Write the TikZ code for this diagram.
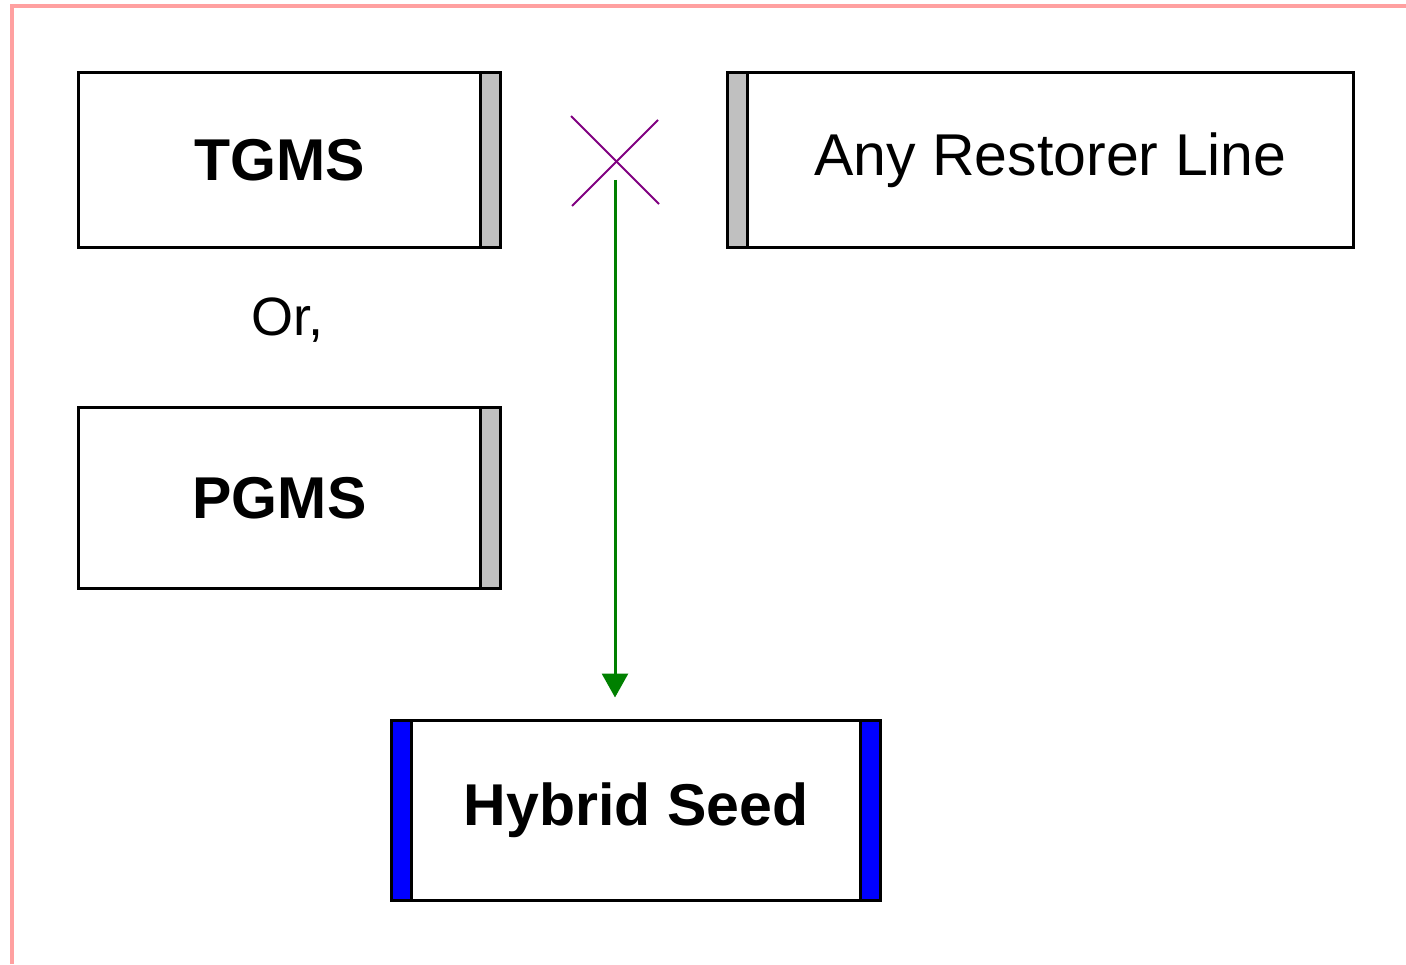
\documentclass[tikz,border=0pt]{standalone}
\usepackage{fontspec}
\setmainfont{Liberation Sans}
\usetikzlibrary{arrows.meta}
\definecolor{framepink}{HTML}{FFA0A0}
\definecolor{bargray}{HTML}{C0C0C0}
\definecolor{barblue}{HTML}{0000FF}
\definecolor{crosspurple}{HTML}{800080}
\definecolor{linegreen}{HTML}{008000}
\begin{document}
\begin{tikzpicture}[x=.5pt,y=.5pt,
  box/.style={draw,line width=1.75pt,outer sep=0pt,inner sep=0pt,
    font=\fontsize{29.5pt}{34pt}\selectfont},
  bar/.style={draw,line width=1.75pt}]
  \useasboundingbox (0,0) rectangle (1406,964);
  \draw[framepink,line width=2pt] (12,0) -- (12,958) -- (1406,958);
  \node[box,minimum width=201pt,minimum height=87.5pt] (tgms) at (279.5,804) {\bfseries TGMS};
  \draw[bar,fill=bargray] (tgms.north east) rectangle ++(20,-175);
  \node[box,minimum width=303pt,minimum height=87.5pt] (restorer) at (1050.5,804) {Any Restorer Line};
  \draw[bar,fill=bargray] (restorer.north west) rectangle ++(-20,-175);
  \node[font=\fontsize{27pt}{32pt}\selectfont] (or) at (287,644) {Or,};
  \node[box,minimum width=201pt,minimum height=90.5pt] (pgms) at (279.5,466) {\bfseries PGMS};
  \draw[bar,fill=bargray] (pgms.north east) rectangle ++(20,-181);
  \node[box,minimum width=224.5pt,minimum height=90pt] (hybrid) at (636,153.5) {\bfseries Hybrid Seed};
  \draw[bar,fill=barblue] (hybrid.north west) rectangle ++(-20,-180);
  \draw[bar,fill=barblue] (hybrid.north east) rectangle ++(20,-180);
  \coordinate (cross) at (615,804);
  \draw[crosspurple,line width=.9pt] (cross) ++(-44,44) -- ++(88,-88);
  \draw[crosspurple,line width=.9pt] (cross) ++(43,40) -- ++(-86,-86);
  \draw[linegreen,line width=1.5pt,-{Triangle[width=13pt,length=12pt]},shorten <=10pt,shorten >=11.5pt]
    (cross) -- (cross |- hybrid.north);
\end{tikzpicture}
\end{document}
